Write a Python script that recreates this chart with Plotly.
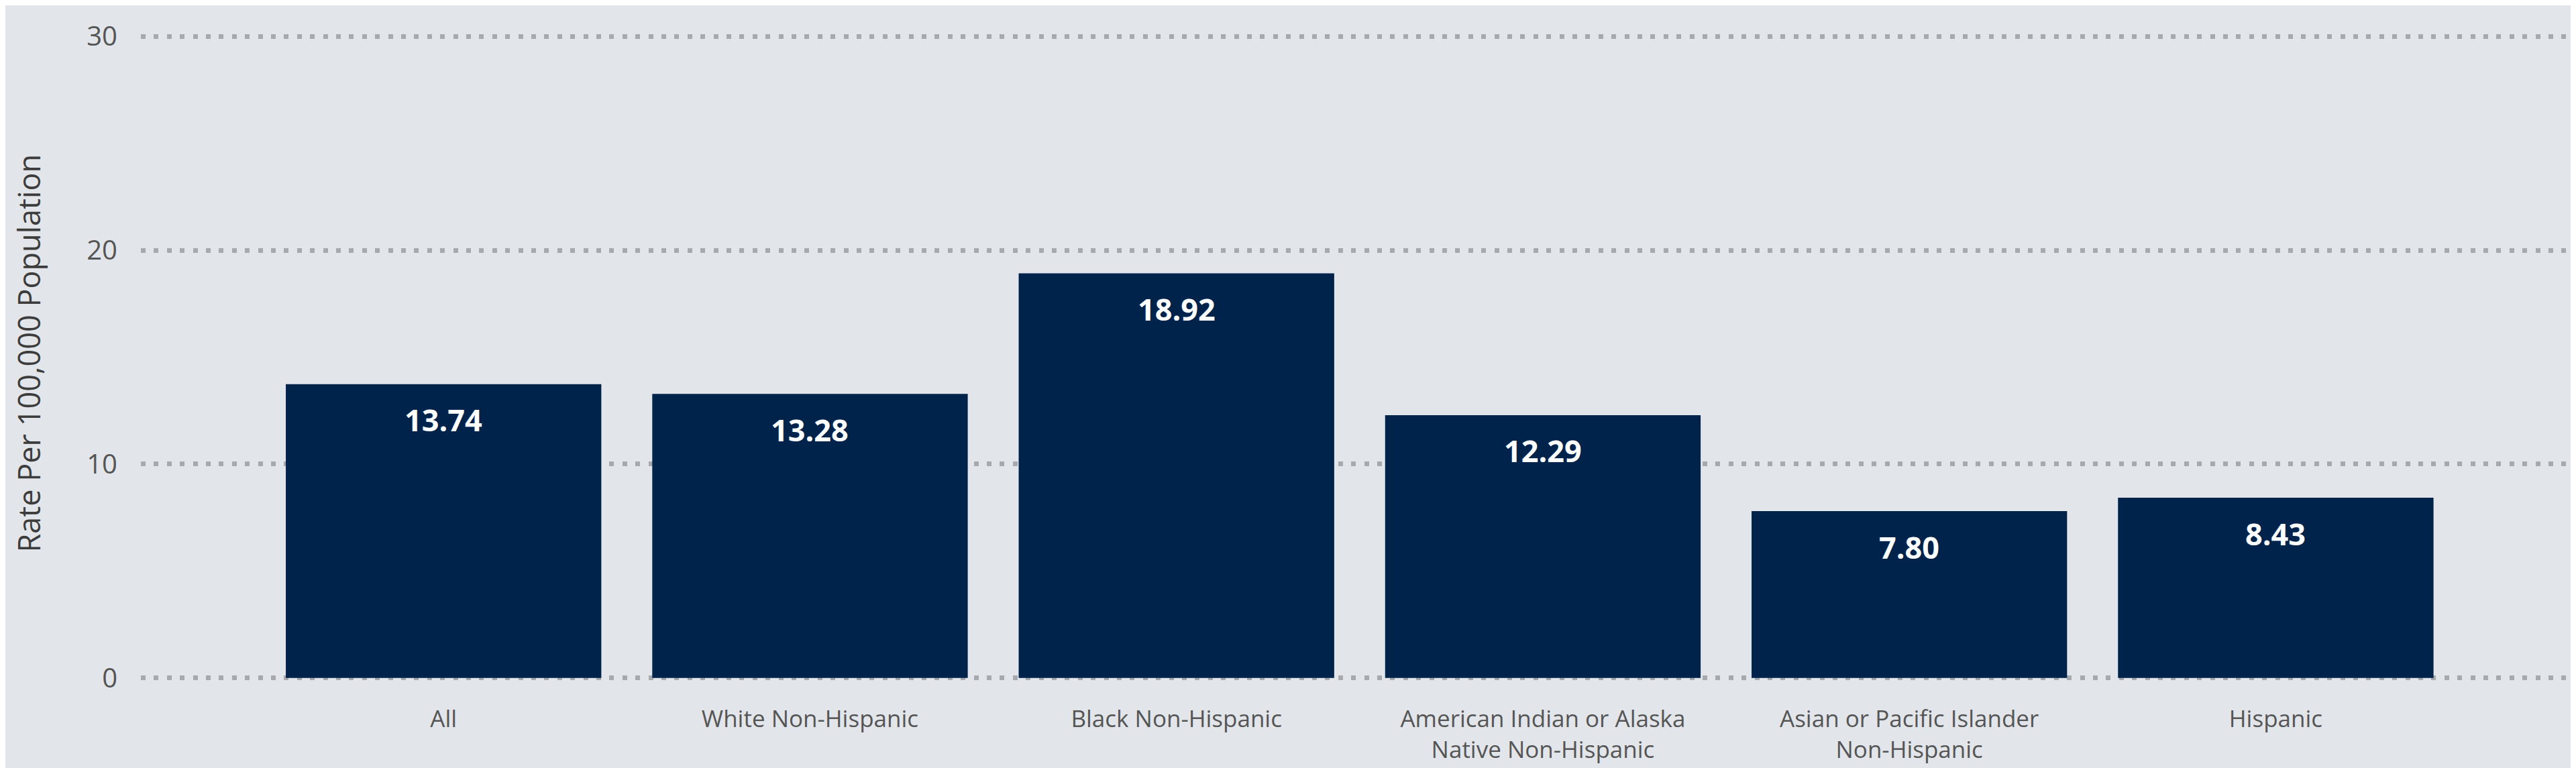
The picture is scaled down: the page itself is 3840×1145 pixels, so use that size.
import plotly.graph_objects as go

categories = [
    "All",
    "White Non-Hispanic",
    "Black Non-Hispanic",
    "American Indian or Alaska<br>Native Non-Hispanic",
    "Asian or Pacific Islander<br>Non-Hispanic",
    "Hispanic",
]
rates = [13.74, 13.28, 18.92, 12.29, 7.80, 8.43]
y_ticks = [0, 10, 20, 30]
y_title = "Rate Per 100,000 Population"

BG = "#E2E6EA"
BAR = "#00234B"
FONT = "Open Sans, Segoe UI, sans-serif"

W, H = 3840, 1145
L, R, T, B = 202, 0, 43, 139

fig = go.Figure()
fig.add_trace(go.Bar(
    x=list(range(len(categories))),
    y=rates,
    marker=dict(color=BAR, line=dict(width=0)),
    hoverinfo="skip",
))

for i, v in enumerate(rates):
    fig.add_annotation(
        x=i, y=v, xref="x", yref="y",
        text=f"{v:.2f}", showarrow=False,
        yanchor="middle", xanchor="center", yshift=-53,
        font=dict(family=FONT, size=45, color="white", weight="bold"),
    )

fig.add_annotation(
    xref="paper", yref="paper", x=0, y=0.5,
    xshift=-(L - 34), yshift=6, xanchor="center", yanchor="middle",
    text=y_title, textangle=-90, showarrow=False,
    font=dict(family=FONT, size=45, color="#3C3C3C"),
)

fig.update_layout(
    width=W, height=H,
    margin=dict(l=L, r=R, t=T, b=B, pad=0),
    paper_bgcolor=BG, plot_bgcolor=BG,
    bargap=0.139,
    showlegend=False,
    font=dict(family=FONT, color="#5A5A5A"),
)
fig.update_xaxes(
    tickmode="array",
    tickvals=list(range(len(categories))),
    ticktext=categories,
    range=[-0.826, 5.834],
    showgrid=False, zeroline=False, showline=False,
    ticks="", ticklabelstandoff=34,
    tickfont=dict(family=FONT, size=35, color="#555555"),
)
fig.update_yaxes(
    range=[-0.1, 30.1],
    tickmode="array", tickvals=y_ticks,
    showgrid=True, gridcolor="#A6AAAE", gridwidth=7, griddash="7px,12.4px",
    zeroline=False, showline=False,
    ticks="", ticklabelstandoff=34,
    tickfont=dict(family=FONT, size=40, color="#555555"),
)

fig.write_html("out.html")
